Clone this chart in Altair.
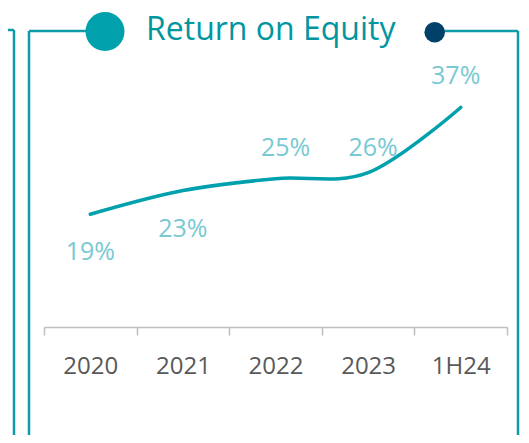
import altair as alt
import pandas as pd

# ---- data ----
periods = ["2020", "2021", "2022", "2023", "1H24"]
roe_pct = [19, 23, 25, 26, 37]
title_text = "Return on Equity"

df = pd.DataFrame({"period": periods, "roe": roe_pct})

TEAL = "#00A0AD"
FRAME = "#0E9AA7"
TITLE_C = "#00969F"
NAVY = "#00416A"
LABEL_C = "#79C9D3"
AXIS_C = "#BFBFBF"
TICKLBL_C = "#595959"
FONT = "Open Sans"

x_enc = alt.X(
    "period:N",
    sort=periods,
    scale=alt.Scale(type="band", paddingInner=0, paddingOuter=0),
    axis=alt.Axis(
        title=None,
        tickBand="extent",
        domainColor=AXIS_C,
        domainWidth=1.5,
        tickColor=AXIS_C,
        tickWidth=1.5,
        tickSize=8,
        labelFont=FONT,
        labelFontSize=24,
        labelColor=TICKLBL_C,
        labelBaseline="alphabetic",
        labelPadding=38,
        labelAngle=0,
        grid=False,
    ),
)
y_enc = alt.Y("roe:Q", scale=alt.Scale(domain=[0, 45]), axis=None)

base = alt.Chart(df).encode(x=x_enc, y=y_enc)

line = base.mark_line(
    interpolate="cardinal", color=TEAL, strokeWidth=3.5, strokeCap="round"
)

lbl_base = base.transform_calculate(lbl="datum.roe + '%'")


def labels(which, dx, dy):
    return (
        lbl_base.transform_filter(alt.FieldOneOfPredicate(field="period", oneOf=which))
        .mark_text(
            font=FONT, fontSize=25, color=LABEL_C, align="center",
            baseline="middle", dx=dx, dy=dy,
        )
        .encode(text="lbl:N")
    )


lab_below = labels(["2020", "2021"], 0, 38)
lab_25 = labels(["2022"], 10, -31)
lab_26 = labels(["2023"], 5, -25)
lab_37 = labels(["1H24"], -5, -31)

# ---- frame decoration ----
one = alt.Data(values=[{}])


def rule(x1, x2, y1, y2):
    return alt.Chart(one).mark_rule(color=FRAME, strokeWidth=2.5).encode(
        x=alt.value(x1), x2=alt.value(x2), y=alt.value(y1), y2=alt.value(y2)
    )


frame = [
    rule(-44, -30, -30, -30),
    rule(-30, -30, -30, 380),
    rule(-15, 61, -29, -29),
    rule(-15, -15, -29, 380),
    rule(391, 474, -29, -29),
    rule(474, 474, -29, 380),
]

teal_dot = alt.Chart(one).mark_circle(color=TEAL, opacity=1, size=1520).encode(
    x=alt.value(61), y=alt.value(-28.5)
)
navy_dot = alt.Chart(one).mark_circle(color=NAVY, opacity=1, size=423).encode(
    x=alt.value(390.7), y=alt.value(-27.7)
)
title = alt.Chart(one).mark_text(
    font=FONT, fontSize=32, color=TITLE_C, align="left", baseline="alphabetic"
).encode(x=alt.value(102), y=alt.value(-19.6), text=alt.value(title_text))

chart = (
    alt.layer(*frame, teal_dot, navy_dot, title, line, lab_below, lab_25, lab_26, lab_37)
    .properties(
        width=463,
        height=267,
        autosize="none",
        padding={"left": 36, "top": 52, "right": 14, "bottom": 108},
    )
    .configure_view(stroke=None)
)

chart.save("out.html", embed_options={"renderer": "svg", "actions": False})
